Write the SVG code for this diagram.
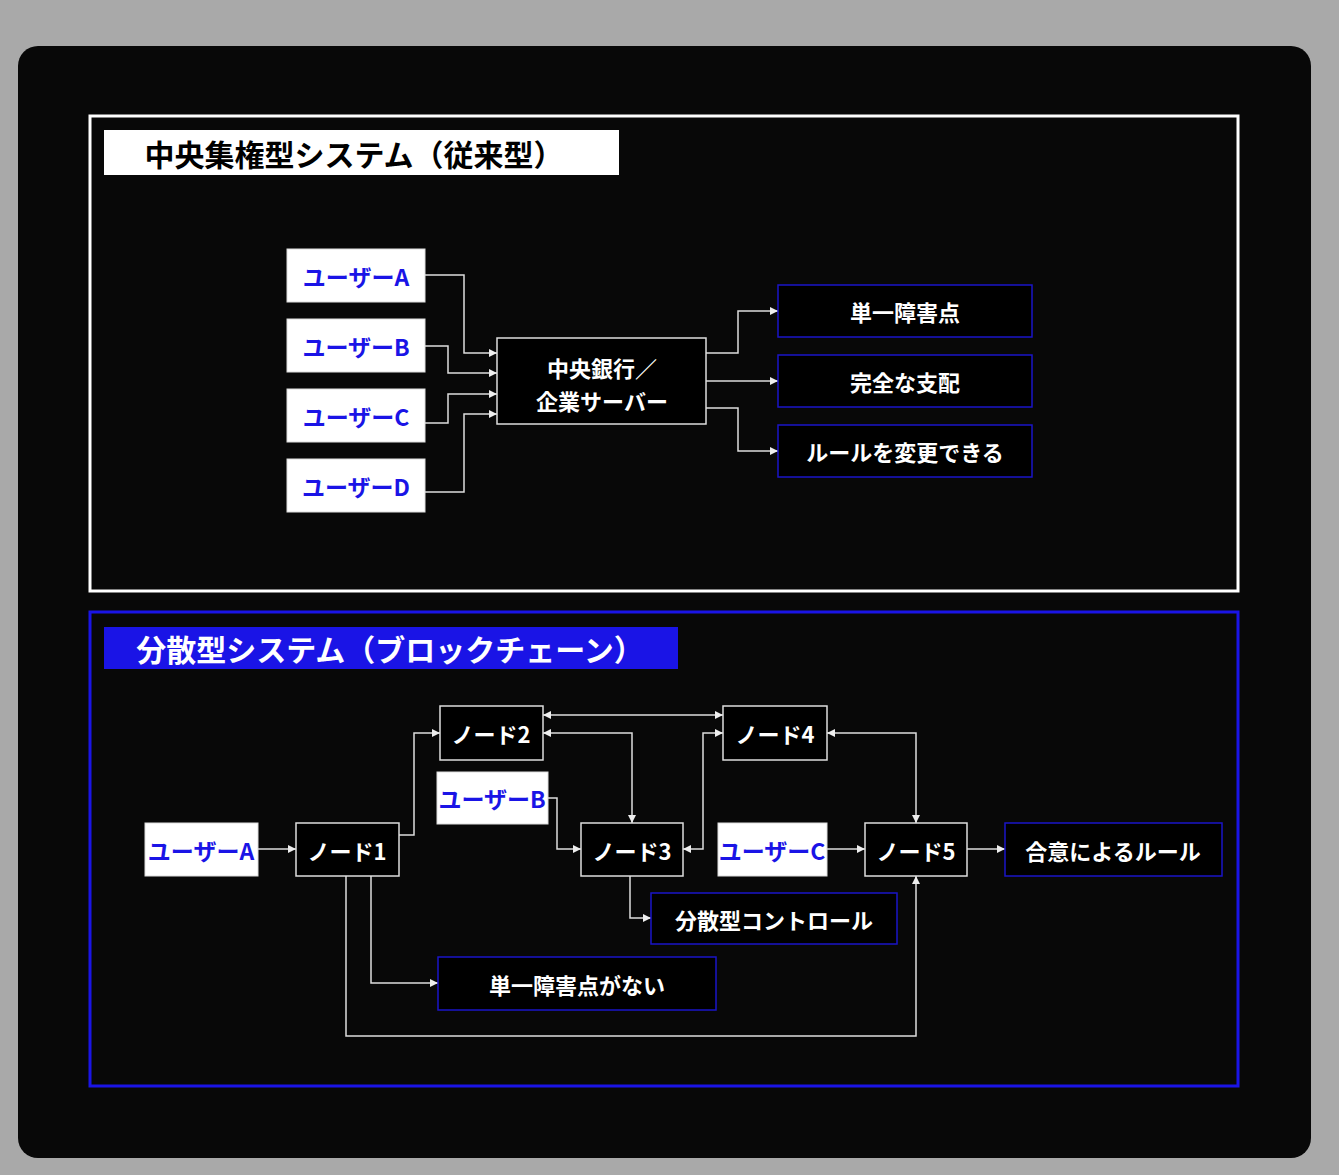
<svg xmlns="http://www.w3.org/2000/svg" width="1339" height="1175" viewBox="0 0 1339 1175">
<style>
text{font-family:"Noto Sans CJK JP","Noto Sans CJK SC",sans-serif;font-weight:bold;text-anchor:middle;dominant-baseline:central}
.u rect{fill:#fff;stroke:#ddd;stroke-width:1}
.u text{fill:#1a14e6;font-size:23px}
.n rect{fill:#000;stroke:#ddd;stroke-width:1.5}
.n text{fill:#fff;font-size:22px}
.o rect{fill:#000;stroke:#1a14c8;stroke-width:1.5}
.o text{fill:#fff;font-size:22px}
#conn path{fill:none;stroke:#ddd;stroke-width:1.5}
</style>
<defs>
<marker id="a" viewBox="0 0 10 10" refX="10" refY="5" markerWidth="8" markerHeight="8" markerUnits="userSpaceOnUse" orient="auto-start-reverse"><path d="M0,0L10,5L0,10z" fill="#eee"/></marker>
</defs>
<rect width="1339" height="1175" fill="#a9a9a9"/>
<rect x="18" y="46" width="1293" height="1112" rx="20" fill="#080808"/>
<rect x="90" y="116" width="1148" height="475" fill="none" stroke="#fff" stroke-width="3"/>
<rect x="104" y="130" width="515" height="45" fill="#fff"/>
<text x="354" y="153" style="font-size:30px;fill:#000">中央集権型システム（従来型）</text>
<rect x="90" y="612" width="1148" height="474" fill="none" stroke="#1a14e6" stroke-width="3"/>
<rect x="104" y="627" width="574" height="42" fill="#1a14e6"/>
<text x="390" y="648" style="font-size:30px;fill:#fff">分散型システム（ブロックチェーン）</text>

<g id="conn" marker-end="url(#a)">
<path d="M425,275H464V353H497"/>
<path d="M425,346H448V373H497"/>
<path d="M425,423H448V394H497"/>
<path d="M425,492H464V414H497"/>
<path d="M706,353H738V311H778"/>
<path d="M706,381H778"/>
<path d="M706,408H738V451H778"/>
<path d="M258,849H296"/>
<path d="M399,835H414V733H440"/>
<path d="M543,715H723" marker-start="url(#a)"/>
<path d="M543,733H632V823" marker-start="url(#a)"/>
<path d="M683,849H703V733H723" marker-start="url(#a)"/>
<path d="M827,733H916V823" marker-start="url(#a)"/>
<path d="M548,798H557V849H581"/>
<path d="M827,849H865"/>
<path d="M967,849H1005"/>
<path d="M630,876V918H651"/>
<path d="M371,876V983H438"/>
<path d="M346,876V1036H916V876"/>
</g>

<g id="uA1" class="u"><rect x="287" y="249" width="138" height="53"/><text x="356" y="276">ユーザーA</text></g>
<g id="uB1" class="u"><rect x="287" y="319" width="138" height="53"/><text x="356" y="346">ユーザーB</text></g>
<g id="uC1" class="u"><rect x="287" y="389" width="138" height="53"/><text x="356" y="416">ユーザーC</text></g>
<g id="uD1" class="u"><rect x="287" y="459" width="138" height="53"/><text x="356" y="486">ユーザーD</text></g>
<g id="center" class="n"><rect x="497" y="338" width="209" height="86"/><text x="602" y="367">中央銀行／</text><text x="602" y="400">企業サーバー</text></g>
<g id="o1" class="o"><rect x="778" y="285" width="254" height="52"/><text x="905" y="311">単一障害点</text></g>
<g id="o2" class="o"><rect x="778" y="355" width="254" height="52"/><text x="905" y="381">完全な支配</text></g>
<g id="o3" class="o"><rect x="778" y="425" width="254" height="52"/><text x="905" y="451">ルールを変更できる</text></g>

<g id="uA2" class="u"><rect x="145" y="823" width="113" height="53"/><text x="201" y="850">ユーザーA</text></g>
<g id="n1" class="n"><rect x="296" y="823" width="103" height="53"/><text x="347" y="850">ノード1</text></g>
<g id="n2" class="n"><rect x="440" y="706" width="103" height="54"/><text x="491" y="733">ノード2</text></g>
<g id="n4" class="n"><rect x="723" y="706" width="104" height="54"/><text x="775" y="733">ノード4</text></g>
<g id="uB2" class="u"><rect x="437" y="772" width="111" height="52"/><text x="492" y="798">ユーザーB</text></g>
<g id="n3" class="n"><rect x="581" y="823" width="102" height="53"/><text x="632" y="850">ノード3</text></g>
<g id="uC2" class="u"><rect x="718" y="823" width="109" height="53"/><text x="772" y="850">ユーザーC</text></g>
<g id="n5" class="n"><rect x="865" y="823" width="102" height="53"/><text x="916" y="850">ノード5</text></g>
<g id="o4" class="o"><rect x="1005" y="823" width="217" height="53"/><text x="1113" y="850">合意によるルール</text></g>
<g id="o5" class="o"><rect x="651" y="893" width="246" height="51"/><text x="774" y="919">分散型コントロール</text></g>
<g id="o6" class="o"><rect x="438" y="957" width="278" height="53"/><text x="577" y="984">単一障害点がない</text></g>
</svg>
